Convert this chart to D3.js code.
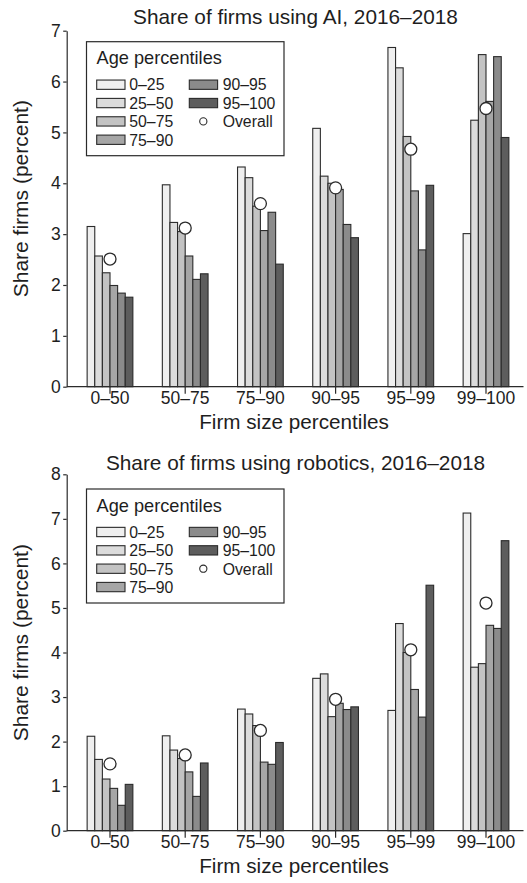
<!DOCTYPE html>
<html>
<head>
<meta charset="utf-8">
<script src="https://cdn.jsdelivr.net/npm/d3@7"></script>
<style>
  html, body { margin: 0; padding: 0; background: #fff; }
  svg { display: block; font-family: "Liberation Sans", Arial, Helvetica, sans-serif; }
</style>
</head>
<body>
<svg id="chart" width="527" height="883"></svg>
<script>
// ---------- DATA ----------
const categories = ["0–50", "50–75", "75–90", "90–95", "95–99", "99–100"];
const ageGroups = ["0–25", "25–50", "50–75", "75–90", "90–95", "95–100"];

// AI: one array per age group, values across firm-size categories
const ai_0_25   = [3.15, 3.97, 4.32, 5.08, 6.67, 3.01];
const ai_25_50  = [2.57, 3.23, 4.11, 4.14, 6.27, 5.24];
const ai_50_75  = [2.24, 3.05, 3.55, 4.00, 4.92, 6.53];
const ai_75_90  = [1.99, 2.57, 3.07, 3.88, 3.85, 5.61];
const ai_90_95  = [1.84, 2.11, 3.43, 3.19, 2.69, 6.49];
const ai_95_100 = [1.76, 2.22, 2.41, 2.93, 3.96, 4.90];
const aiOverall = [2.51, 3.12, 3.60, 3.91, 4.67, 5.47];

// Robotics
const rob_0_25   = [2.12, 2.13, 2.73, 3.42, 2.70, 7.13];
const rob_25_50  = [1.60, 1.81, 2.62, 3.52, 4.65, 3.67];
const rob_50_75  = [1.16, 1.62, 2.36, 2.56, 4.00, 3.75];
const rob_75_90  = [0.95, 1.32, 1.54, 2.86, 3.17, 4.61];
const rob_90_95  = [0.57, 0.77, 1.49, 2.72, 2.55, 4.54];
const rob_95_100 = [1.04, 1.52, 1.98, 2.78, 5.51, 6.51];
const robOverall = [1.50, 1.70, 2.25, 2.95, 4.06, 5.11];

const aiTicks = [0, 1, 2, 3, 4, 5, 6, 7];
const robTicks = [0, 1, 2, 3, 4, 5, 6, 7, 8];

const titles = ["Share of firms using AI, 2016–2018", "Share of firms using robotics, 2016–2018"];
const xTitle = "Firm size percentiles";
const yTitle = "Share firms (percent)";
const legendTitle = "Age percentiles";
const overallLabel = "Overall";

// ---------- STYLE ----------
const fills = ["#efefef", "#dcdcdc", "#c3c3c3", "#a6a6a6", "#8b8b8b", "#5d5d5d"];
const ink = "#2b2b2b";
const textInk = "#1e1e1e";

const svg = d3.select("#chart");

function panel(cfg) {
  const g = svg.append("g");
  const series = cfg.series;
  const yMax = cfg.ticks[cfg.ticks.length - 1];
  const y = d3.scaleLinear().domain([0, yMax]).range([cfg.y0, cfg.yTop]);
  const x = d3.scaleBand().domain(categories).range([72.4, 523.6])
    .paddingInner(0.392).paddingOuter(0.196);
  const xi = d3.scaleBand().domain(ageGroups).range([0, x.bandwidth()]).padding(0);

  // bars
  const groups = g.selectAll("g.grp").data(categories).join("g")
    .attr("class", "grp")
    .attr("transform", d => `translate(${x(d)},0)`);
  groups.selectAll("rect").data((c, ci) => ageGroups.map((a, ai) => ({ a, ai, v: series[ai][ci] })))
    .join("rect")
    .attr("x", d => xi(d.a))
    .attr("y", d => y(d.v))
    .attr("width", xi.bandwidth())
    .attr("height", d => cfg.y0 - y(d.v))
    .attr("fill", d => fills[d.ai])
    .attr("stroke", ink)
    .attr("stroke-width", 1.1);

  // overall circles
  g.selectAll("circle.ov").data(categories).join("circle")
    .attr("class", "ov")
    .attr("cx", d => x(d) + x.bandwidth() / 2)
    .attr("cy", (d, i) => y(cfg.overall[i]))
    .attr("r", 6)
    .attr("fill", "#fff")
    .attr("stroke", ink)
    .attr("stroke-width", 1.3);

  // y axis
  const yAxis = g.append("g")
    .attr("transform", `translate(66.7,0)`)
    .call(d3.axisLeft(y).tickValues(cfg.ticks).tickFormat(d3.format("d")).tickSize(3.5).tickSizeOuter(0).tickPadding(2.5));
  yAxis.selectAll("path, line").attr("stroke", ink).attr("stroke-width", 1.2);
  yAxis.selectAll("text").attr("font-size", 17.5).attr("fill", textInk)
    .attr("font-family", "'Liberation Sans', Arial, sans-serif");

  // x axis
  const xAxis = g.append("g")
    .attr("transform", `translate(0,${cfg.y0})`)
    .call(d3.axisBottom(x).tickSize(7).tickSizeOuter(0));
  xAxis.select(".domain").remove();
  xAxis.append("line").attr("x1", 66.7).attr("x2", 523.5).attr("y1", 0).attr("y2", 0)
    .attr("stroke", ink).attr("stroke-width", 1.2);
  xAxis.selectAll("line").attr("stroke", ink).attr("stroke-width", 1.2);
  xAxis.selectAll(".tick text").attr("font-size", 17.5).attr("fill", textInk)
    .attr("font-family", "'Liberation Sans', Arial, sans-serif")
    .attr("y", 17.3).attr("dy", 0);

  // titles
  g.append("text").attr("x", 295.5).attr("y", cfg.titleY).attr("text-anchor", "middle")
    .attr("font-size", 20.8).attr("fill", textInk).text(cfg.title);
  g.append("text").attr("x", 294).attr("y", cfg.y0 + 42.6).attr("text-anchor", "middle")
    .attr("font-size", 20.7).attr("fill", textInk).text(xTitle);
  g.append("text").attr("transform", `translate(28,${cfg.y0 - 188}) rotate(-90)`)
    .attr("text-anchor", "middle").attr("font-size", 21).attr("fill", textInk).text(yTitle);

  // legend
  const L = g.append("g").attr("transform", `translate(86.5,${cfg.legTop})`);
  L.append("rect").attr("x", 0).attr("y", 0).attr("width", 197.5).attr("height", 114)
    .attr("fill", "#fff").attr("stroke", ink).attr("stroke-width", 1.2);
  L.append("text").attr("x", 10).attr("y", 22.6).attr("font-size", 18.2).attr("fill", textInk).text(legendTitle);
  const rowY = i => 43 + i * 18.35;
  const items = ageGroups.map((a, i) => ({ a, i, col: i < 4 ? 0 : 1, row: i < 4 ? i : i - 4 }));
  const colSw = [10.2, 102.8], colTx = [42.8, 136.2];
  const it = L.selectAll("g.item").data(items).join("g").attr("class", "item");
  it.append("rect")
    .attr("x", d => colSw[d.col]).attr("y", d => rowY(d.row) - 4.65)
    .attr("width", 28.3).attr("height", 9.3)
    .attr("fill", d => fills[d.i]).attr("stroke", ink).attr("stroke-width", 1.1);
  it.append("text")
    .attr("x", d => colTx[d.col]).attr("y", d => rowY(d.row) + 5.8)
    .attr("font-size", 15.8).attr("fill", textInk).text(d => d.a);
  L.append("circle").attr("cx", 116.8).attr("cy", rowY(2)).attr("r", 3.6)
    .attr("fill", "#fff").attr("stroke", ink).attr("stroke-width", 1.1);
  L.append("text").attr("x", colTx[1]).attr("y", rowY(2) + 5.8)
    .attr("font-size", 15.8).attr("fill", textInk).text(overallLabel);
}

panel({
  series: [ai_0_25, ai_25_50, ai_50_75, ai_75_90, ai_90_95, ai_95_100],
  overall: aiOverall, ticks: aiTicks, y0: 386.7, yTop: 30.7,
  title: titles[0], titleY: 24, legTop: 41.7
});
panel({
  series: [rob_0_25, rob_25_50, rob_50_75, rob_75_90, rob_90_95, rob_95_100],
  overall: robOverall, ticks: robTicks, y0: 830.7, yTop: 474.3,
  title: titles[1], titleY: 470, legTop: 489
});
</script>
</body>
</html>
